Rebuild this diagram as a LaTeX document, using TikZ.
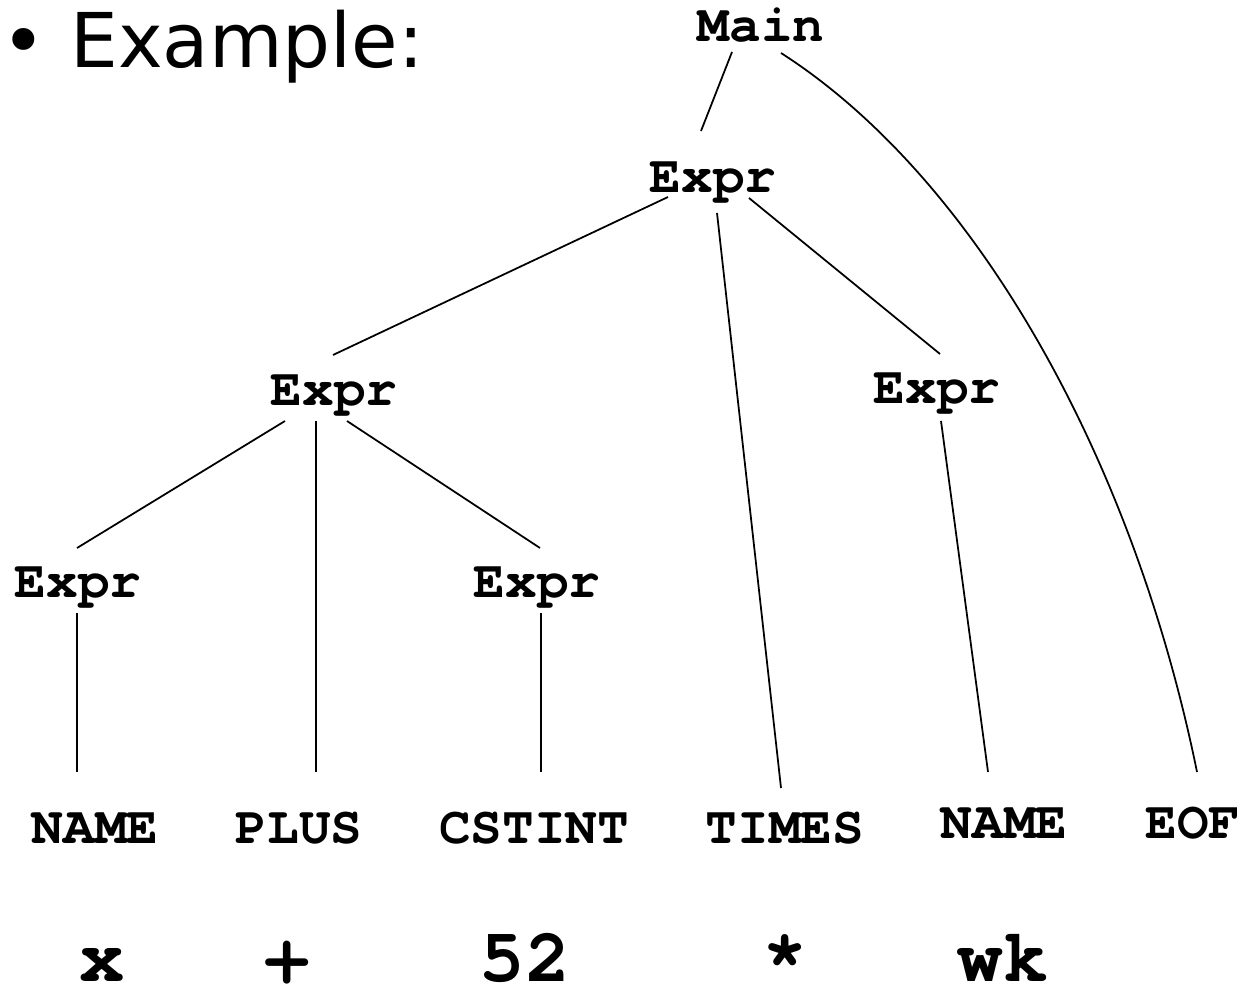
\documentclass[tikz,border=0pt]{standalone}
\usepackage{fontspec}
\setmainfont{DejaVu Sans}
\newfontfamily\codefont{TeX Gyre Cursor}
\begin{document}
\begin{tikzpicture}[x=0.02cm,y=-0.02cm,line width=1pt,
	lbl/.style={anchor=base,inner sep=0pt,font=\codefont\bfseries\fontsize{30}{36}\selectfont},
	tok/.style={anchor=base,inner sep=0pt,font=\codefont\bfseries\fontsize{43}{50}\selectfont}]
		\useasboundingbox (0,0) rectangle (1243,989);
		\node[anchor=base west,inner sep=0pt,font=\fontsize{43}{50}\selectfont] (title) at (1,68) {• Example:};
		\node[lbl] (main) at (761,42) {Main};
		\node[lbl] (ex1) at (713,193) {Expr};
		\node[lbl] (ex2) at (334,405) {Expr};
		\node[lbl] (ex3) at (937,403) {Expr};
		\node[lbl] (ex4) at (78,597) {Expr};
		\node[lbl] (ex5) at (537,597) {Expr};
		\node[lbl] (name1) at (95,843) {NAME};
		\node[lbl] (plus) at (299,843) {PLUS};
		\node[lbl] (cstint) at (534,843) {CSTINT};
		\node[lbl] (times) at (785,843) {TIMES};
		\node[lbl] (name2) at (1004,838) {NAME};
		\node[lbl] (eof) at (1193,838) {EOF};
		\node[tok] (t1) at (102,981) {x};
		\node[tok] (t2) at (287,981) {+};
		\node[tok] (t3) at (525,981) {52};
		\node[tok] (t4) at (785,981) {*};
		\node[tok] (t5) at (1003,981) {wk};
		\draw ([shift={(-29,10)}]main.base) -- ([shift={(-12,-62)}]ex1.base);
		\draw ([shift={(20,11)}]main.base) .. controls +(195,125) and +(-64,-314) .. ([shift={(4,-66)}]eof.base);
		\draw ([shift={(-45,4)}]ex1.base) -- ([shift={(-1,-50)}]ex2.base);
		\draw ([shift={(4,20)}]ex1.base) -- ([shift={(-4,-55)}]times.base);
		\draw ([shift={(36,5)}]ex1.base) -- ([shift={(3,-49)}]ex3.base);
		\draw ([shift={(-49,16)}]ex2.base) -- ([shift={(-1,-49)}]ex4.base);
		\draw ([shift={(-18,16)}]ex2.base) -- ([shift={(17,-71)}]plus.base);
		\draw ([shift={(13,16)}]ex2.base) -- ([shift={(3,-49)}]ex5.base);
		\draw ([shift={(4,18)}]ex3.base) -- ([shift={(-16,-66)}]name2.base);
		\draw ([shift={(-1,16)}]ex4.base) -- ([shift={(-18,-71)}]name1.base);
		\draw ([shift={(4,16)}]ex5.base) -- ([shift={(7,-71)}]cstint.base);
\end{tikzpicture}
\end{document}
